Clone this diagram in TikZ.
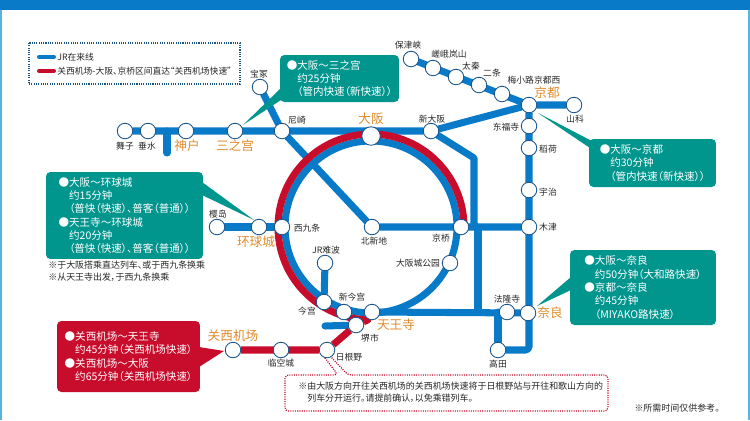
\documentclass[tikz,border=0pt]{standalone}
\usepackage{fontspec}
\setmainfont[RawFeature={+palt}]{Noto Sans CJK SC}
\definecolor{jrblue}{RGB}{8,122,200}
\definecolor{jrred}{RGB}{200,12,44}
\definecolor{jrteal}{RGB}{0,150,142}
\definecolor{jrorange}{RGB}{224,138,44}
\definecolor{jrring}{RGB}{26,84,140}
\definecolor{jrframe}{RGB}{90,180,225}
\pgfdeclarelayer{lines}
\pgfsetlayers{lines,main}
\begin{document}
\begin{tikzpicture} [x=0.02cm, y=-0.02cm]
    \tikzstyle{every node}=[align = left, inner sep=0pt]
    \tikzstyle{stn} = [circle, draw=jrring, line width=0.5pt, fill=white, minimum size=0.31cm]
    \tikzstyle{bigstn} = [stn, minimum size=0.37cm]
    \tikzstyle{stnlabel} = [font=\fontsize{5}{6}\selectfont, text=black!85]
    \tikzstyle{majorlabel} = [font=\fontsize{7.2}{8}\selectfont, text=jrorange]
    \tikzstyle{noteline} = [font=\fontsize{5.1}{6.8}\selectfont, text=black!85]
    \tikzstyle{blueline} = [draw=jrblue, line width=4pt, line cap=round, line join=round]
    \tikzstyle{redline} = [draw=jrred, line width=4pt, line join=round]
    \tikzstyle{infobox} = [rounded corners=2.5pt, text=white, font=\fontsize{6}{7.55}\selectfont]
    \tikzstyle{tealbox} = [infobox, fill=jrteal]
    \tikzstyle{redbox} = [infobox, fill=jrred]
    \useasboundingbox (0,0) rectangle (750,420);
    % frame
    \fill[jrframe] (0,10) rectangle (1.5,420);
    \fill[jrframe] (747.5,10) rectangle (750,420);
    \fill[jrblue] (0,0) rectangle (750,10);
    % legend
    \draw[jrring, line width=0.7pt, dash pattern=on 0.6pt off 0.7pt] (29,43) rectangle (240,84);
    \coordinate (legbluea) at (39,57);
    \coordinate (legblueb) at (54,57);
    \coordinate (legreda) at (39,71);
    \coordinate (legredb) at (54,71);
    \draw[jrblue, line width=2.3pt, line cap=round] (legbluea) -- (legblueb);
    \draw[jrred, line width=2.3pt, line cap=round] (legreda) -- (legredb);
    \node[stnlabel, anchor=west] (legbluetext) at (57,57) {JR在来线};
    \node[stnlabel, anchor=west] (legredtext) at (57,71) {关西机场-大阪、京桥区间直达“关西机场快速”};
    % stations
    \node[stn] (maiko) at (125,131) {};
    \node[stn] (tarumi) at (148,131) {};
    \node[stn] (kobe) at (186,131) {};
    \node[stn] (sannomiya) at (235,131) {};
    \node[stn] (amagasaki) at (282,131) {};
    \node[stn] (takarazuka) at (260,87) {};
    \node[bigstn] (osaka) at (371,136) {};
    \node[stn] (shinosaka) at (431,131) {};
    \node[stn] (hozukyo) at (411,59) {};
    \node[stn] (arashiyama) at (433,68) {};
    \node[stn] (uzumasa) at (456,77) {};
    \node[stn] (nijo) at (479,85) {};
    \node[stn] (umekoji) at (502,94) {};
    \node[stn] (kyoto) at (529,105) {};
    \node[stn] (yamashina) at (574,105) {};
    \node[stn] (tofukuji) at (529,126) {};
    \node[stn] (inari) at (529,148) {};
    \node[stn] (uji) at (529,190) {};
    \node[stn] (kizu) at (529,227) {};
    \node[stn] (sakurajima) at (217,227) {};
    \node[stn] (usj) at (259,227) {};
    \node[stn] (nishikujo) at (282,227) {};
    \node[stn] (kitashinchi) at (372,227) {};
    \node[stn] (kyobashi) at (461,227) {};
    \node[stn] (jrnamba) at (325,263) {};
    \node[stn] (osakajo) at (450,263) {};
    \node[stn] (imamiya) at (324,302) {};
    \node[stn] (shinimamiya) at (344,312) {};
    \node[stn] (tennoji) at (372,312) {};
    \node[stn] (sakai) at (356,325) {};
    \node[stn] (hineno) at (327,350) {};
    \node[stn] (rinku) at (281,350) {};
    \node[stn] (kix) at (233,350) {};
    \node[stn] (horyuji) at (507,312) {};
    \node[stn] (nara) at (528,313) {};
    \node[stn] (takada) at (498,350) {};
    % junctions
    \coordinate (ringcentre) at (371,227);
    \coordinate (redstart) at (464,227);
    \coordinate (kobestub) at (167,153);
    \coordinate (kobestubtop) at (167,131);
    \coordinate (sakaistub) at (325,326);
    \coordinate (shinosakabend) at (474,158);
    \coordinate (shinosakadown) at (474,227);
    \coordinate (yamatotop) at (478,227);
    \coordinate (yamatoend) at (478,312);
    \coordinate (narabend) at (529,350);
    \coordinate (takadaup) at (498,312);
    \begin{pgfonlayer}{lines}
    \draw[blueline] (maiko) -- (shinosaka) -- (kyoto) -- (yamashina);
    \draw[blueline] (kobestubtop) -- (kobestub);
    \draw[blueline] (hozukyo) -- (kyoto);
    \draw[blueline, rounded corners=2pt] (kyoto) -- (narabend) -- (takada);
    \draw[blueline] (takada) -- (takadaup);
    \draw[blueline] (takarazuka) -- (amagasaki) -- (kitashinchi) -- (kizu);
    \draw[blueline] (shinosaka) -- (shinosakabend) -- (shinosakadown);
    \draw[blueline] (yamatotop) -- (yamatoend);
    \draw[blueline] (sakurajima) -- (nishikujo);
    \draw[blueline] (jrnamba) -- (imamiya);
    \draw[blueline] (tennoji) -- (nara);
    \draw[blueline] (sakaistub) -- (sakai);
    \draw[blueline] (ringcentre) circle[radius=86];
    \draw[redline] (redstart) arc[start angle=0, end angle=-268, radius=93] -- (sakai) -- (hineno) -- (kix);
    \end{pgfonlayer}
    % station names
    \node[stnlabel] (maikoname) at (125,146) {舞子};
    \node[stnlabel] (taruminame) at (147,146) {垂水};
    \node[majorlabel] (kobename) at (187,146) {神户};
    \node[majorlabel] (sannomiyaname) at (235,146) {三之宫};
    \node[stnlabel] (takarazukaname) at (259,74) {宝冢};
    \node[stnlabel] (amagasakiname) at (297,120) {尼崎};
    \node[majorlabel] (osakaname) at (371,119) {大阪};
    \node[stnlabel] (shinosakaname) at (432,119) {新大阪};
    \node[stnlabel] (hozukyoname) at (408,45) {保津峡};
    \node[stnlabel] (arashiyamaname) at (449,54) {嵯峨岚山};
    \node[stnlabel] (uzumasaname) at (471,66) {太秦};
    \node[stnlabel] (nijoname) at (492,73) {二条};
    \node[stnlabel] (umekojiname) at (534,80) {梅小路京都西};
    \node[majorlabel] (kyotoname) at (547,93) {京都};
    \node[stnlabel] (yamashinaname) at (575,119) {山科};
    \node[stnlabel] (tofukujiname) at (506,127) {东福寺};
    \node[stnlabel] (inariname) at (548,149) {稻荷};
    \node[stnlabel] (ujiname) at (548,192) {宇治};
    \node[stnlabel] (kizuname) at (548,227) {木津};
    \node[stnlabel] (sakurajimaname) at (218,214) {樱岛};
    \node[majorlabel] (usjname) at (256,242) {环球城};
    \node[stnlabel] (nishikujoname) at (307,228) {西九条};
    \node[stnlabel] (kitashinchiname) at (374,241) {北新地};
    \node[stnlabel] (kyobashiname) at (441,238) {京桥};
    \node[stnlabel] (jrnambaname) at (326,250) {JR难波};
    \node[stnlabel] (osakajoname) at (418,263) {大阪城公园};
    \node[stnlabel] (shinimamiyaname) at (352,297) {新今宫};
    \node[stnlabel] (imamiyaname) at (307,311) {今宫};
    \node[majorlabel] (tennojiname) at (396,325) {天王寺};
    \node[stnlabel] (sakainame) at (370,338) {堺市};
    \node[stnlabel] (hinenoname) at (349,357) {日根野};
    \node[stnlabel] (rinkuname) at (281,363) {临空城};
    \node[majorlabel] (kixname) at (233,336) {关西机场};
    \node[stnlabel] (horyujiname) at (507,299) {法隆寺};
    \node[majorlabel] (naraname) at (550,313) {奈良};
    \node[stnlabel] (takadaname) at (498,364) {高田};
    % callouts
    \coordinate (sannomiyatip) at (243,125);
    \coordinate (sannomiyabasea) at (281,88);
    \coordinate (sannomiyabaseb) at (281,100);
    \fill[jrteal] (sannomiyatip) -- (sannomiyabasea) -- (sannomiyabaseb) -- cycle;
    \node[tealbox, minimum width=2.38cm, minimum height=0.94cm] (sannomiyabox) at (339.5,78.5)
        {●大阪～三之宫\\ \hphantom{●}约25分钟\\ \hphantom{●}（管内快速（新快速））};
    \coordinate (kyototip) at (538,113);
    \coordinate (kyotobasea) at (590,140);
    \coordinate (kyotobaseb) at (590,148);
    \fill[jrteal] (kyototip) -- (kyotobasea) -- (kyotobaseb) -- cycle;
    \node[tealbox, minimum width=2.54cm, minimum height=0.96cm] (kyotobox) at (652.5,163)
        {●大阪～京都\\ \hphantom{●}约30分钟\\ \hphantom{●}（管内快速（新快速））};
    \coordinate (usjtip) at (254,220);
    \coordinate (usjbasea) at (202,182);
    \coordinate (usjbaseb) at (202,195);
    \fill[jrteal] (usjtip) -- (usjbasea) -- (usjbaseb) -- cycle;
    \node[tealbox, minimum width=3.14cm, minimum height=1.74cm] (usjbox) at (124.5,215.5)
        {●大阪～环球城\\ \hphantom{●}约15分钟\\ \hphantom{●}（普快（快速）、普客（普通））\\ ●天王寺～环球城\\ \hphantom{●}约20分钟\\ \hphantom{●}（普快（快速）、普客（普通））};
    \coordinate (naratip) at (537,306);
    \coordinate (narabasea) at (571,277);
    \coordinate (narabaseb) at (571,290);
    \fill[jrteal] (naratip) -- (narabasea) -- (narabaseb) -- cycle;
    \node[tealbox, minimum width=2.92cm, minimum height=1.5cm] (narabox) at (643,287.5)
        {●大阪～奈良\\ \hphantom{●}约50分钟（大和路快速）\\ ●京都～奈良\\ \hphantom{●}约45分钟\\ \hphantom{●}（MIYAKO路快速）};
    \coordinate (kixtip) at (224,351);
    \coordinate (kixbasea) at (199,347);
    \coordinate (kixbaseb) at (199,367);
    \fill[jrred] (kixtip) -- (kixbasea) -- (kixbaseb) -- cycle;
    \node[redbox, minimum width=2.86cm, minimum height=1.42cm] (kixbox) at (128.5,356.5)
        {●关西机场～天王寺\\ \hphantom{●}约45分钟（关西机场快速）\\ ●关西机场～大阪\\ \hphantom{●}约65分钟（关西机场快速）};
    % notes
    \node[noteline, anchor=north west] (usjnote) at (48,261)
        {※于大阪搭乘直达列车、或于西九条换乘\\ ※从天王寺出发，于西九条换乘};
    \coordinate (notea) at (338,375);
    \coordinate (noteb) at (285,375);
    \coordinate (notec) at (285,411);
    \coordinate (noted) at (608,411);
    \coordinate (notee) at (608,375);
    \coordinate (notef) at (348,375);
    \draw[jrred, line width=0.7pt, dash pattern=on 0.6pt off 0.7pt, rounded corners=2pt]
        (hineno.-105) -- (notea) -- (noteb) -- (notec) -- (noted) -- (notee) -- (notef) -- (hineno.-60);
    \node[noteline, anchor=west] (hinenonote) at (298,392)
        {※由大阪方向开往关西机场的关西机场快速将于日根野站与开往和歌山方向的\\ \hphantom{※}列车分开运行。请提前确认，以免乘错列车。};
    \node[noteline, anchor=east] (timenote) at (720,408) {※所需时间仅供参考。};
\end{tikzpicture}
\end{document}
